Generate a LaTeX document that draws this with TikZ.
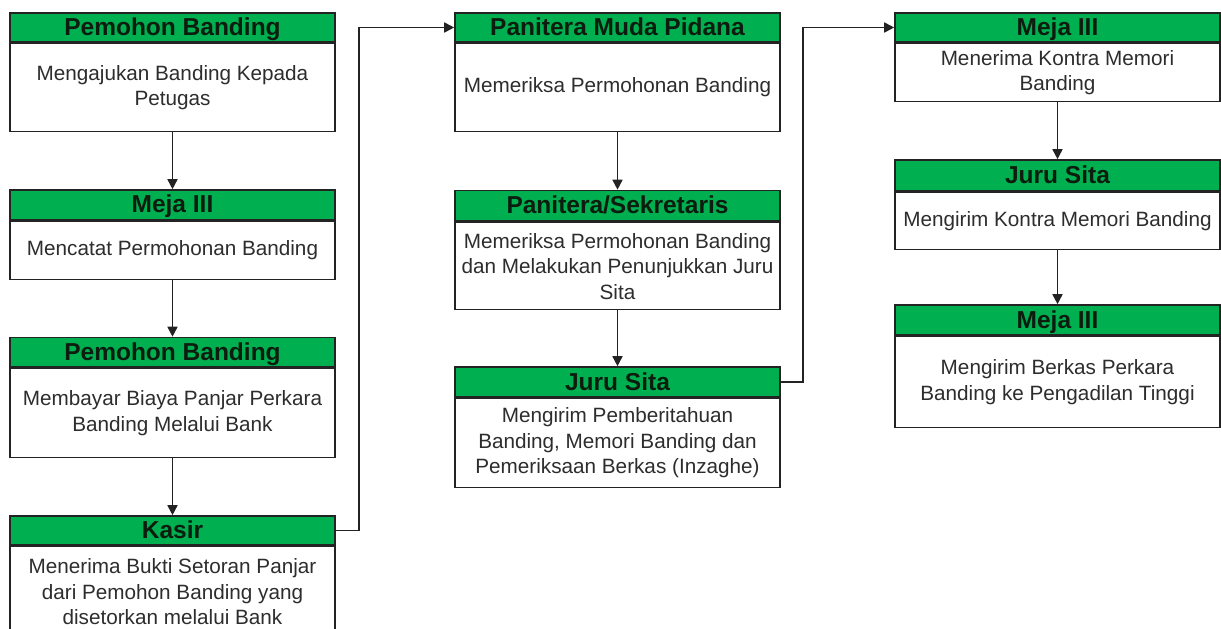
\documentclass[tikz,border=0pt]{standalone}
\usepackage{fontspec}
\setmainfont{Liberation Sans}
\usetikzlibrary{arrows.meta}
\definecolor{hdrgreen}{RGB}{0,176,80}
\definecolor{edge}{RGB}{35,35,35}
\definecolor{bodytext}{RGB}{45,45,45}
\definecolor{hdrtext}{RGB}{12,28,14}
\tikzset{
  hdr/.style={draw=edge, line width=1.6pt, fill=hdrgreen, minimum width=325pt,
    inner sep=0pt, text height=17.5pt, text depth=1.5pt,
    font=\bfseries\fontsize{24.5}{26}\selectfont, text=hdrtext},
  bodybox/.style={draw=edge, line width=1.6pt, fill=white, minimum width=325pt,
    inner sep=0pt, anchor=north, align=center,
    font=\fontsize{20.7}{25.5}\selectfont, text=bodytext},
  flow/.style={draw=edge, line width=1.6pt, -{Triangle[width=10pt,length=10pt]}},
}
\begin{document}
\begin{tikzpicture}[x=1pt,y=-1pt]
\clip (0,0) rectangle (1221,629);
\fill[white] (0,0) rectangle (1221,629);

% first column
\node[hdr, minimum height=29pt] (a1h) at (172.5,27.5) {Pemohon Banding};
\node[bodybox, minimum height=88pt] (a1b) at (a1h.south) {Mengajukan Banding Kepada\\Petugas};
\node[hdr, minimum height=29.5pt] (a2h) at (172.5,204.75) {Meja III};
\node[bodybox, minimum height=58.5pt] (a2b) at (a2h.south) {Mencatat Permohonan Banding};
\node[hdr, minimum height=29.5pt] (a3h) at (172.5,352.25) {Pemohon Banding};
\node[bodybox, minimum height=89pt] (a3b) at (a3h.south) {Membayar Biaya Panjar Perkara\\Banding Melalui Bank};
\node[hdr, minimum height=29pt] (a4h) at (172.5,530.5) {Kasir};
\node[bodybox, minimum height=90pt] (a4b) at (a4h.south) {Menerima Bukti Setoran Panjar\\dari Pemohon Banding yang\\disetorkan melalui Bank};

% second column
\node[hdr, minimum height=29pt] (b1h) at (617.5,27.5) {Panitera Muda Pidana};
\node[bodybox, minimum height=88pt] (b1b) at (b1h.south) {Memeriksa Permohonan Banding};
\node[hdr, minimum height=30.5pt] (b2h) at (617.5,205.75) {Panitera/Sekretaris};
\node[bodybox, minimum height=87pt] (b2b) at (b2h.south) {Memeriksa Permohonan Banding\\dan Melakukan Penunjukkan Juru\\Sita};
\node[hdr, minimum height=30pt] (b3h) at (617.5,382) {Juru Sita};
\node[bodybox, minimum height=89pt] (b3b) at (b3h.south) {Mengirim Pemberitahuan\\Banding, Memori Banding dan\\Pemeriksaan Berkas (Inzaghe)};

% third column
\node[hdr, minimum height=29pt] (c1h) at (1057.5,27.5) {Meja III};
\node[bodybox, minimum height=58pt] (c1b) at (c1h.south) {Menerima Kontra Memori\\Banding};
\node[hdr, minimum height=31pt] (c2h) at (1057.5,175.5) {Juru Sita};
\node[bodybox, minimum height=57pt] (c2b) at (c2h.south) {Mengirim Kontra Memori Banding};
\node[hdr, minimum height=30pt] (c3h) at (1057.5,320) {Meja III};
\node[bodybox, minimum height=91pt] (c3b) at (c3h.south) {Mengirim Berkas Perkara\\Banding ke Pengadilan Tinggi};

% flow within columns
\draw[flow] (a1b.south) -- (a2h.north);
\draw[flow] (a2b.south) -- (a3h.north);
\draw[flow] (a3b.south) -- (a4h.north);
\draw[flow] (b1b.south) -- (b2h.north);
\draw[flow] (b2b.south) -- (b3h.north);
\draw[flow] (c1b.south) -- (c2h.north);
\draw[flow] (c2b.south) -- (c3h.north);

% flow between columns
\draw[flow] (a4h.east) -- ++(23,0) |- (b1h.west);
\draw[flow] (b3h.east) -- ++(22,0) |- (c1h.west);
\end{tikzpicture}
\end{document}
